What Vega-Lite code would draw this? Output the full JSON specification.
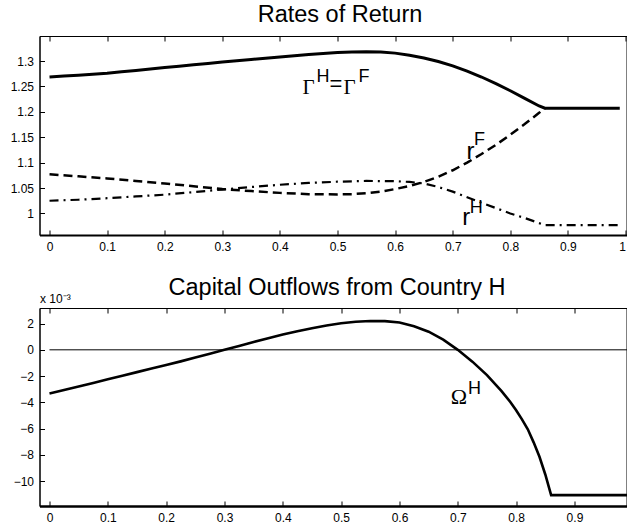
{
  "$schema": "https://vega.github.io/schema/vega-lite/v6.json",
  "padding": {"left": 9.5, "top": 2, "right": 0, "bottom": 0},
  "background": "white",
  "spacing": 73,
  "bounds": "flush",
  "config": {
    "view": {"stroke": "black", "strokeWidth": 1},
    "axis": {"grid": false, "domainColor": "black", "tickColor": "black", "labelColor": "black", "labelFont": "Liberation Sans", "labelFontSize": 12, "tickSize": -5, "labelPadding": 11, "titleColor": "black", "domainWidth": 1, "tickWidth": 1},
    "title": {"font": "Liberation Sans", "fontSize": 23.5, "fontWeight": "normal", "color": "black", "baseline": "alphabetic", "offset": 9, "anchor": "middle", "frame": "group"}
  },
  "datasets": {
    "gamma": [
      {"x": 0, "y": 1.2685}, {"x": 0.025, "y": 1.2703}, {"x": 0.05, "y": 1.2721}, {"x": 0.075, "y": 1.274}, {"x": 0.1, "y": 1.276},
      {"x": 0.125, "y": 1.2787}, {"x": 0.15, "y": 1.2815}, {"x": 0.175, "y": 1.2842}, {"x": 0.2, "y": 1.287}, {"x": 0.225, "y": 1.2897},
      {"x": 0.25, "y": 1.2925}, {"x": 0.275, "y": 1.2952}, {"x": 0.3, "y": 1.298}, {"x": 0.325, "y": 1.3005}, {"x": 0.35, "y": 1.303},
      {"x": 0.375, "y": 1.3055}, {"x": 0.4, "y": 1.308}, {"x": 0.425, "y": 1.3105}, {"x": 0.45, "y": 1.313}, {"x": 0.475, "y": 1.315},
      {"x": 0.5, "y": 1.3165}, {"x": 0.525, "y": 1.3175}, {"x": 0.55, "y": 1.318}, {"x": 0.575, "y": 1.3175}, {"x": 0.6, "y": 1.3155},
      {"x": 0.625, "y": 1.3115}, {"x": 0.65, "y": 1.306}, {"x": 0.675, "y": 1.299}, {"x": 0.7, "y": 1.2905}, {"x": 0.725, "y": 1.28},
      {"x": 0.75, "y": 1.2685}, {"x": 0.775, "y": 1.2555}, {"x": 0.8, "y": 1.2415}, {"x": 0.825, "y": 1.2265}, {"x": 0.85, "y": 1.2115},
      {"x": 0.86, "y": 1.207}, {"x": 0.99, "y": 1.207}
    ],
    "rF": [
      {"x": 0, "y": 1.077}, {"x": 0.05, "y": 1.073}, {"x": 0.1, "y": 1.069}, {"x": 0.15, "y": 1.064}, {"x": 0.2, "y": 1.059},
      {"x": 0.25, "y": 1.0535}, {"x": 0.3, "y": 1.048}, {"x": 0.35, "y": 1.044}, {"x": 0.4, "y": 1.0405}, {"x": 0.45, "y": 1.038},
      {"x": 0.5, "y": 1.0375}, {"x": 0.525, "y": 1.038}, {"x": 0.55, "y": 1.04}, {"x": 0.575, "y": 1.043}, {"x": 0.6, "y": 1.048},
      {"x": 0.625, "y": 1.054}, {"x": 0.65, "y": 1.062}, {"x": 0.675, "y": 1.072}, {"x": 0.7, "y": 1.085}, {"x": 0.725, "y": 1.1},
      {"x": 0.75, "y": 1.117}, {"x": 0.775, "y": 1.135}, {"x": 0.8, "y": 1.155}, {"x": 0.825, "y": 1.176}, {"x": 0.85, "y": 1.198},
      {"x": 0.86, "y": 1.207}
    ],
    "rH": [
      {"x": 0, "y": 1.025}, {"x": 0.05, "y": 1.027}, {"x": 0.1, "y": 1.03}, {"x": 0.15, "y": 1.0335}, {"x": 0.2, "y": 1.037},
      {"x": 0.25, "y": 1.042}, {"x": 0.3, "y": 1.047}, {"x": 0.35, "y": 1.052}, {"x": 0.4, "y": 1.0565}, {"x": 0.45, "y": 1.06},
      {"x": 0.5, "y": 1.0625}, {"x": 0.55, "y": 1.064}, {"x": 0.6, "y": 1.0635}, {"x": 0.625, "y": 1.062}, {"x": 0.65, "y": 1.059},
      {"x": 0.675, "y": 1.052}, {"x": 0.7, "y": 1.043}, {"x": 0.725, "y": 1.032}, {"x": 0.75, "y": 1.021}, {"x": 0.775, "y": 1.0105},
      {"x": 0.8, "y": 1.0}, {"x": 0.825, "y": 0.991}, {"x": 0.85, "y": 0.981}, {"x": 0.86, "y": 0.977}, {"x": 0.99, "y": 0.977}
    ],
    "omega": [
      {"x": 0, "y": -3.33}, {"x": 0.025, "y": -3.06}, {"x": 0.05, "y": -2.79}, {"x": 0.075, "y": -2.52}, {"x": 0.1, "y": -2.24},
      {"x": 0.125, "y": -1.97}, {"x": 0.15, "y": -1.7}, {"x": 0.175, "y": -1.43}, {"x": 0.2, "y": -1.16}, {"x": 0.225, "y": -0.88},
      {"x": 0.25, "y": -0.59}, {"x": 0.275, "y": -0.3}, {"x": 0.3, "y": 0}, {"x": 0.325, "y": 0.3}, {"x": 0.35, "y": 0.6},
      {"x": 0.375, "y": 0.89}, {"x": 0.4, "y": 1.16}, {"x": 0.425, "y": 1.42}, {"x": 0.45, "y": 1.65}, {"x": 0.475, "y": 1.85},
      {"x": 0.5, "y": 2.02}, {"x": 0.525, "y": 2.14}, {"x": 0.55, "y": 2.2}, {"x": 0.575, "y": 2.19}, {"x": 0.6, "y": 2.08},
      {"x": 0.625, "y": 1.8}, {"x": 0.65, "y": 1.38}, {"x": 0.675, "y": 0.78}, {"x": 0.7, "y": 0}, {"x": 0.725, "y": -0.9},
      {"x": 0.75, "y": -1.93}, {"x": 0.775, "y": -3.15}, {"x": 0.79, "y": -3.98}, {"x": 0.8, "y": -4.6}, {"x": 0.81, "y": -5.3},
      {"x": 0.82, "y": -6.05}, {"x": 0.83, "y": -7.05}, {"x": 0.84, "y": -8.15}, {"x": 0.85, "y": -9.5},
      {"x": 0.86, "y": -11.07}, {"x": 0.99, "y": -11.07}
    ],
    "zero": [{"x": 0, "x2": 0.99, "y": 0}],
    "topSerif": [{"x": 0.4392, "y": 1.236, "t": "Γ"}, {"x": 0.5104, "y": 1.236, "t": "Γ"}],
    "topEq": [{"x": 0.486, "y": 1.2403, "t": "="}],
    "topBig": [{"x": 0.724, "y": 1.108, "t": "r"}, {"x": 0.7165, "y": 0.977, "t": "r"}],
    "topSup": [{"x": 0.4635, "y": 1.2577, "t": "H"}, {"x": 0.5365, "y": 1.2577, "t": "F"}, {"x": 0.737, "y": 1.135, "t": "F"}, {"x": 0.7297, "y": 1.0, "t": "H"}],
    "botSerif": [{"x": 0.688, "y": -4.09, "t": "Ω"}],
    "botSup": [{"x": 0.7175, "y": -3.33, "t": "H"}]
  },
  "vconcat": [
    {
      "width": 587,
      "height": 199,
      "title": {"text": "Rates of Return", "dx": 7},
      "resolve": {"axis": {"x": "independent", "y": "independent"}},
      "layer": [
        {
          "data": {"name": "gamma"},
          "mark": {"type": "line", "color": "black", "strokeWidth": 3},
          "encoding": {
            "x": {"field": "x", "type": "quantitative", "scale": {"domain": [-0.0174, 1.0017], "nice": false, "zero": false},
                  "axis": {"orient": "bottom", "values": [0, 0.1, 0.2, 0.3, 0.4, 0.5, 0.6, 0.7, 0.8, 0.9, 1], "format": "~g", "title": null, "domainWidth": 2}},
            "y": {"field": "y", "type": "quantitative", "scale": {"domain": [0.9576, 1.3492], "nice": false, "zero": false},
                  "axis": {"orient": "left", "values": [1, 1.05, 1.1, 1.15, 1.2, 1.25, 1.3], "format": "~g", "title": null}}
          }
        },
        {
          "data": {"name": "rF"},
          "mark": {"type": "line", "color": "black", "strokeWidth": 2.5, "strokeDash": [9, 5]},
          "encoding": {
            "x": {"field": "x", "type": "quantitative", "axis": {"orient": "top", "values": [0, 0.1, 0.2, 0.3, 0.4, 0.5, 0.6, 0.7, 0.8, 0.9, 1], "labels": false, "title": null}},
            "y": {"field": "y", "type": "quantitative", "axis": null}
          }
        },
        {
          "data": {"name": "rH"},
          "mark": {"type": "line", "color": "black", "strokeWidth": 2.2, "strokeDash": [9, 5, 2, 5]},
          "encoding": {
            "x": {"field": "x", "type": "quantitative", "axis": null},
            "y": {"field": "y", "type": "quantitative", "axis": null}
          }
        },
        {
          "data": {"name": "topSerif"},
          "mark": {"type": "text", "font": "Liberation Serif", "fontSize": 21, "align": "left", "baseline": "alphabetic", "color": "black"},
          "encoding": {
            "x": {"field": "x", "type": "quantitative", "axis": null},
            "y": {"field": "y", "type": "quantitative", "axis": null},
            "text": {"field": "t"}
          }
        },
        {
          "data": {"name": "topEq"},
          "mark": {"type": "text", "font": "Liberation Sans", "fontSize": 22, "align": "left", "baseline": "alphabetic", "color": "black"},
          "encoding": {
            "x": {"field": "x", "type": "quantitative", "axis": null},
            "y": {"field": "y", "type": "quantitative", "axis": null},
            "text": {"field": "t"}
          }
        },
        {
          "data": {"name": "topBig"},
          "mark": {"type": "text", "font": "Liberation Sans", "fontSize": 24, "align": "left", "baseline": "alphabetic", "color": "black"},
          "encoding": {
            "x": {"field": "x", "type": "quantitative", "axis": null},
            "y": {"field": "y", "type": "quantitative", "axis": null},
            "text": {"field": "t"}
          }
        },
        {
          "data": {"name": "topSup"},
          "mark": {"type": "text", "font": "Liberation Sans", "fontSize": 18, "align": "left", "baseline": "alphabetic", "color": "black"},
          "encoding": {
            "x": {"field": "x", "type": "quantitative", "axis": null},
            "y": {"field": "y", "type": "quantitative", "axis": null},
            "text": {"field": "t"}
          }
        }
      ]
    },
    {
      "width": 587,
      "height": 198,
      "title": {"text": "Capital Outflows from Country H", "dx": 4, "offset": -7.5},
      "resolve": {"axis": {"x": "independent", "y": "independent"}},
      "layer": [
        {
          "data": {"name": "zero"},
          "mark": {"type": "rule", "color": "black", "strokeWidth": 1},
          "encoding": {
            "x": {"field": "x", "type": "quantitative", "scale": {"domain": [-0.0171, 0.9892], "nice": false, "zero": false},
                  "axis": {"orient": "bottom", "values": [0, 0.1, 0.2, 0.3, 0.4, 0.5, 0.6, 0.7, 0.8, 0.9], "format": "~g", "title": null, "domainWidth": 2.5}},
            "x2": {"field": "x2"},
            "y": {"field": "y", "type": "quantitative", "scale": {"domain": [-11.9, 3.187], "nice": false, "zero": false},
                  "axis": {"orient": "left", "values": [-10, -8, -6, -4, -2, 0, 2], "format": "d", "title": "x 10⁻³", "titleAngle": 0, "titleAlign": "left", "titleBaseline": "alphabetic", "titleX": 0, "titleY": -6, "titleFont": "Liberation Sans", "titleFontSize": 12, "titleFontWeight": "normal"}}
          }
        },
        {
          "data": {"name": "omega"},
          "mark": {"type": "line", "color": "black", "strokeWidth": 2.6},
          "encoding": {
            "x": {"field": "x", "type": "quantitative", "axis": {"orient": "top", "values": [0, 0.1, 0.2, 0.3, 0.4, 0.5, 0.6, 0.7, 0.8, 0.9], "labels": false, "title": null}},
            "y": {"field": "y", "type": "quantitative", "axis": null}
          }
        },
        {
          "data": {"name": "botSerif"},
          "mark": {"type": "text", "font": "Liberation Serif", "fontSize": 22, "align": "left", "baseline": "alphabetic", "color": "black"},
          "encoding": {
            "x": {"field": "x", "type": "quantitative", "axis": null},
            "y": {"field": "y", "type": "quantitative", "axis": null},
            "text": {"field": "t"}
          }
        },
        {
          "data": {"name": "botSup"},
          "mark": {"type": "text", "font": "Liberation Sans", "fontSize": 18, "align": "left", "baseline": "alphabetic", "color": "black"},
          "encoding": {
            "x": {"field": "x", "type": "quantitative", "axis": null},
            "y": {"field": "y", "type": "quantitative", "axis": null},
            "text": {"field": "t"}
          }
        }
      ]
    }
  ]
}
